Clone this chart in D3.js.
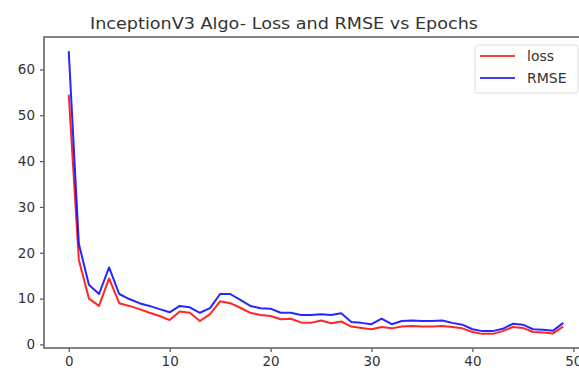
<!DOCTYPE html>
<html>
<head>
<meta charset="utf-8">
<script src="https://cdn.jsdelivr.net/npm/d3@7"></script>
<style>
  body { margin: 0; background: #fff; }
  svg { display: block; font-family: "DejaVu Sans", sans-serif; }
</style>
</head>
<body>
<svg id="chart"></svg>
<script>
var width = 579, height = 371;

// data
var epochs = d3.range(0, 50);
var loss = [54.5, 18.5, 10.0, 8.4, 14.4, 9.0, 8.4, 7.7, 6.9, 6.2,
            5.3, 7.2, 6.9, 5.1, 6.6, 9.4, 9.0, 8.0, 6.9, 6.4,
            6.2, 5.5, 5.6, 4.8, 4.7, 5.2, 4.6, 5.0, 3.9, 3.6,
            3.3, 3.8, 3.5, 3.9, 4.0, 3.9, 3.9, 4.0, 3.8, 3.5,
            2.7, 2.3, 2.3, 2.9, 3.8, 3.6, 2.7, 2.6, 2.4, 3.9];
var rmse = [64.0, 22.0, 13.0, 11.0, 16.8, 11.0, 9.9, 9.0, 8.4, 7.7,
            7.0, 8.4, 8.1, 6.9, 7.9, 11.0, 11.0, 9.7, 8.4, 7.9,
            7.8, 6.9, 6.9, 6.4, 6.4, 6.6, 6.4, 6.8, 4.9, 4.7,
            4.4, 5.6, 4.4, 5.1, 5.2, 5.1, 5.1, 5.2, 4.7, 4.3,
            3.3, 2.9, 2.9, 3.4, 4.5, 4.3, 3.3, 3.2, 3.0, 4.7];
var series = [
    {name: "loss", values: loss, color: "#ff0000"},
    {name: "RMSE", values: rmse, color: "#0000ff"}
];
var xTicks = [0, 10, 20, 30, 40, 50];
var yTicks = [0, 10, 20, 30, 40, 50, 60];
var title = "InceptionV3 Algo- Loss and RMSE vs Epochs";

// plot box (right edge runs past the picture, like the reference crop)
var plotL = 44, plotT = 37, plotR = 588, plotB = 348;

var svg = d3.select("#chart")
    .attr("width", width)
    .attr("height", height);

// matplotlib style 5% margins
var xPad = (d3.max(epochs) - d3.min(epochs)) * 0.05;
var allVals = loss.concat(rmse);
var yPad = (d3.max(allVals) - d3.min(allVals)) * 0.05;

var x = d3.scaleLinear()
    .domain([d3.min(epochs) - xPad, d3.max(epochs) + xPad])
    .range([plotL, plotR]);
var y = d3.scaleLinear()
    .domain([d3.min(allVals) - yPad, d3.max(allVals) + yPad])
    .range([plotB, plotT]);

// lines
var line = d3.line()
    .x(function(d, i) { return x(epochs[i]); })
    .y(function(d) { return y(d); });

svg.selectAll("path.series")
    .data(series)
    .enter().append("path")
    .attr("class", "series")
    .attr("d", function(s) { return line(s.values); })
    .style("fill", "none")
    .style("stroke", function(s) { return s.color; })
    .style("stroke-width", 2)
    .style("stroke-linejoin", "round")
    .style("opacity", 0.85);

// axes
var xAxis = svg.append("g")
    .attr("transform", "translate(0," + plotB + ")")
    .call(d3.axisBottom(x).tickValues(xTicks).tickSize(4).tickPadding(4).tickSizeOuter(0));
var yAxis = svg.append("g")
    .attr("transform", "translate(" + plotL + ",0)")
    .call(d3.axisLeft(y).tickValues(yTicks).tickSize(4).tickPadding(5).tickSizeOuter(0));

[xAxis, yAxis].forEach(function(g) {
    g.select(".domain").remove();
    g.selectAll(".tick line").style("stroke", "#555").style("stroke-width", 1.2);
    g.selectAll(".tick text")
        .style("font-family", "DejaVu Sans, sans-serif")
        .style("font-size", "13.5px")
        .style("fill", "#333");
});

// spines
svg.append("rect")
    .attr("x", plotL)
    .attr("y", plotT)
    .attr("width", plotR - plotL)
    .attr("height", plotB - plotT)
    .style("fill", "none")
    .style("stroke", "#666")
    .style("stroke-width", 1.6);

// title
svg.append("text")
    .attr("x", 284)
    .attr("y", 29)
    .attr("text-anchor", "middle")
    .attr("textLength", 388)
    .attr("lengthAdjust", "spacingAndGlyphs")
    .style("font-size", "16px")
    .style("fill", "#333")
    .text(title);

// legend
var lg = svg.append("g");
lg.append("rect")
    .attr("x", 475)
    .attr("y", 45)
    .attr("width", 103)
    .attr("height", 48)
    .attr("rx", 3)
    .style("fill", "#fff")
    .style("fill-opacity", 0.8)
    .style("stroke", "#ddd")
    .style("stroke-width", 1);

var items = lg.selectAll("g.item")
    .data(series)
    .enter().append("g")
    .attr("class", "item")
    .attr("transform", function(s, i) { return "translate(0," + (56 + i * 22) + ")"; });
items.append("line")
    .attr("x1", 480).attr("x2", 515)
    .attr("y1", 0).attr("y2", 0)
    .style("stroke", function(s) { return s.color; })
    .style("stroke-width", 2)
    .style("opacity", 0.75);
items.append("text")
    .attr("x", 527)
    .attr("y", 5)
    .style("font-size", "14px")
    .style("fill", "#333")
    .text(function(s) { return s.name; });
</script>
</body>
</html>
